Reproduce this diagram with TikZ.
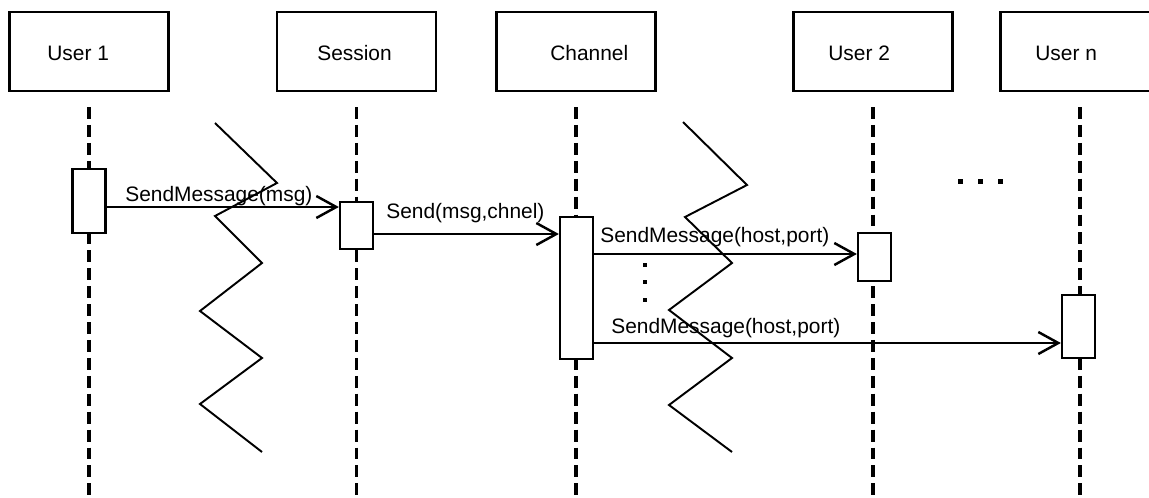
\documentclass[tikz,border=0pt]{standalone}
\usepackage{fontspec}
\setmainfont{Liberation Sans}
\usetikzlibrary{arrows.meta}
\begin{document}
\begin{tikzpicture}[x=0.02cm,y=-0.02cm,
  objbox/.style={draw,line width=1.3pt,minimum width=3.18cm,minimum height=1.58cm,inner sep=0pt},
  act/.style={draw,fill=white,line width=1.3pt,minimum width=0.66cm,inner sep=0pt},
  lifeline/.style={line width=1.8pt,dash pattern=on 6.8pt off 3.4pt},
  msg/.style={line width=1.3pt,-{Straight Barb[length=0.4cm,width=0.44cm,line width=1.4pt]}},
  lbl/.style={anchor=base west,inner sep=0pt,font=\fontsize{11.9}{14}\selectfont},
  zig/.style={line width=1.1pt,line join=miter},
  dot/.style={fill=black}]
\useasboundingbox (0,0) rectangle (1149,497);

% object boxes
\node[objbox] (u1)  at (89,51.5)   {};
\node[objbox] (ses) at (356.5,51.5) {};
\node[objbox] (ch)  at (576,51.5)  {};
\node[objbox] (u2)  at (873,51.5)  {};
\node[objbox] (un)  at (1080,51.5) {};

\node[lbl] (tu1)  at (47,60)   {User 1};
\node[lbl] (tses) at (317,60)  {Session};
\node[lbl] (tch)  at (550,60)  {Channel};
\node[lbl] (tu2)  at (828,60)  {User 2};
\node[lbl] (tun)  at (1035,60) {User n};

% lifelines
\coordinate (top) at (0,107);
\coordinate (bot) at (0,500);
\foreach \o in {u1,ses,ch,u2,un}
  \draw[lifeline] (\o.south |- top) -- (\o.south |- bot);

% activation bars
\node[act,minimum height=1.28cm] (a1) at (89,201)     {};
\node[act,minimum height=0.94cm] (a2) at (356.5,225.5) {};
\node[act,minimum height=2.84cm] (a3) at (576.5,288)  {};
\node[act,minimum height=0.96cm] (a4) at (874.5,257)  {};
\node[act,minimum height=1.26cm] (a5) at (1078.5,326.5) {};

% messages
\coordinate (m1) at (0,207);
\coordinate (m2) at (0,234);
\coordinate (m3) at (0,254);
\coordinate (m4) at (0,343);
\draw[msg] (a1.east |- m1) -- (a2.west |- m1);
\draw[msg] (a2.east |- m2) -- (a3.west |- m2);
\draw[msg] (a3.east |- m3) -- (a4.west |- m3);
\draw[msg] (a3.east |- m4) -- (a5.west |- m4);

\node[lbl] (l1) at (125,201) {SendMessage(msg)};
\node[lbl] (l2) at (386,218) {Send(msg,chnel)};
\node[lbl] (l3) at (600,242) {SendMessage(host,port)};
\node[lbl] (l4) at (611,333) {SendMessage(host,port)};

% time-break zigzags
\draw[zig] (215,123) -- (277,183) -- (215,216) -- (262,263) -- (200,311)
  -- (262,358) -- (200,404) -- (262,452);
\draw[zig] (683,122) -- (747,185) -- (685,217) -- (732,263) -- (669,310)
  -- (732,358) -- (669,405) -- (732,452);

% ellipses
\foreach \y in {265,282,300}
  \fill[dot] (643,\y-2) rectangle (647,\y+2);
\foreach \x in {960,980,1000}
  \fill[dot] (\x-2.5,178.5) rectangle (\x+2.5,183.5);
\end{tikzpicture}
\end{document}
